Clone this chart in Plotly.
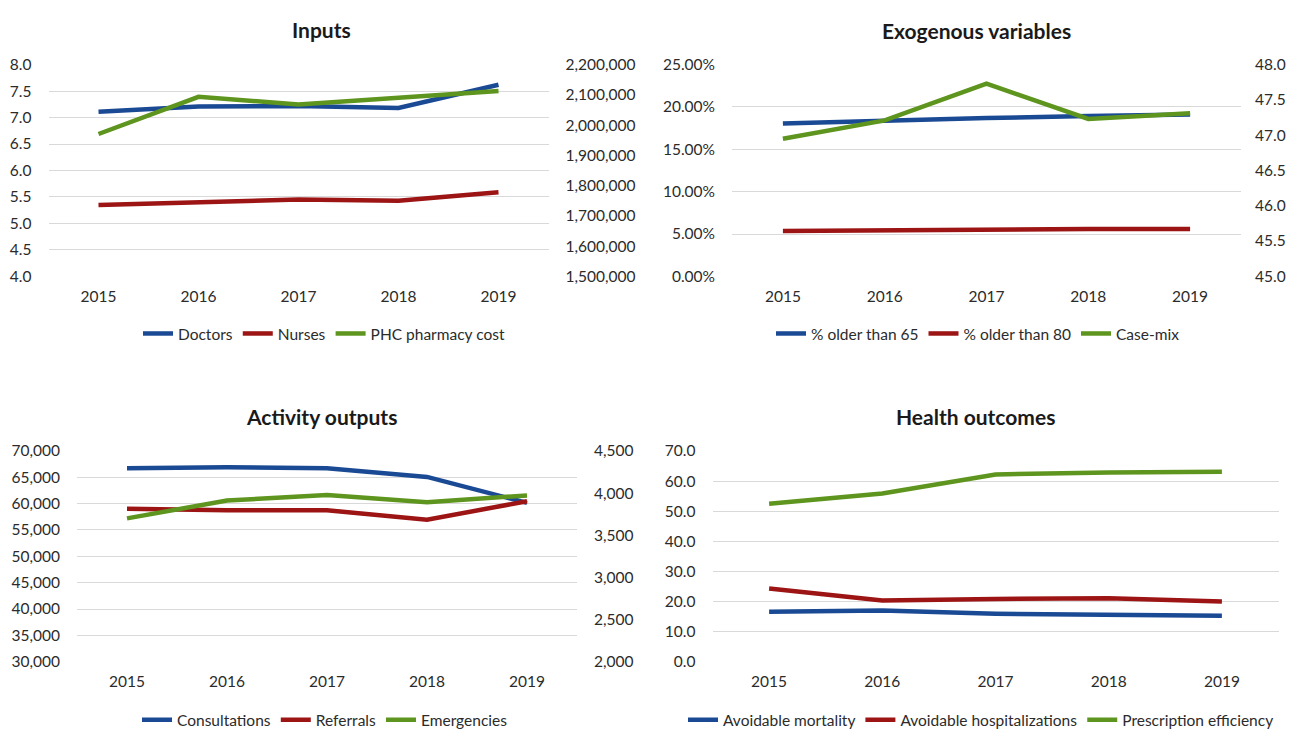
import plotly.graph_objects as go

years = ["2015", "2016", "2017", "2018", "2019"]

# Inputs
doctors = [7.11, 7.21, 7.22, 7.18, 7.62]
nurses = [5.35, 5.40, 5.45, 5.43, 5.59]
pharmacy_cost = [1970600, 2093400, 2068600, 2090200, 2112800]

# Exogenous variables
older65 = [0.1804, 0.1838, 0.1870, 0.1892, 0.1912]
older80 = [0.0535, 0.0546, 0.0554, 0.0558, 0.0558]
case_mix = [46.95, 47.21, 47.73, 47.23, 47.31]

# Activity outputs
consultations = [66740, 66920, 66740, 65080, 60150]
referrals = [59050, 58740, 58740, 56950, 60460]
emergencies = [3700, 3912, 3977, 3892, 3973]

# Health outcomes
avoid_mortality = [16.6, 17.0, 15.9, 15.6, 15.3]
avoid_hosp = [24.3, 20.3, 20.85, 21.07, 20.0]
presc_eff = [52.5, 55.85, 62.2, 62.87, 63.09]

BLUE = "#1B4A94"
RED = "#9C1414"
GREEN = "#5E951E"
GRID = "#D9D9D9"
TXT = "#2b2b2b"
FONT = "Lato"
W, H = 1298, 738

def xd(a, b):
    return [a / W, b / W]

def yd(top, bottom):
    return [1 - bottom / H, 1 - top / H]

fig = go.Figure()

def add(x, y, name, color, xa, ya, legend):
    fig.add_trace(go.Scatter(x=x, y=y, name=name, mode="lines",
                             line=dict(color=color, width=4.5),
                             xaxis=xa, yaxis=ya, legend=legend))

add(years, doctors, "Doctors", BLUE, "x", "y", "legend")
add(years, nurses, "Nurses", RED, "x", "y", "legend")
add(years, pharmacy_cost, "PHC pharmacy cost", GREEN, "x", "y2", "legend")

add(years, older65, "% older than 65", BLUE, "x2", "y3", "legend2")
add(years, older80, "% older than 80", RED, "x2", "y3", "legend2")
add(years, case_mix, "Case-mix", GREEN, "x2", "y4", "legend2")

add(years, consultations, "Consultations", BLUE, "x3", "y5", "legend3")
add(years, referrals, "Referrals", RED, "x3", "y5", "legend3")
add(years, emergencies, "Emergencies", GREEN, "x3", "y6", "legend3")

add(years, avoid_mortality, "Avoidable mortality", BLUE, "x4", "y7", "legend4")
add(years, avoid_hosp, "Avoidable hospitalizations", RED, "x4", "y7", "legend4")
add(years, presc_eff, "Prescription efficiency", GREEN, "x4", "y7", "legend4")

tickfont = dict(family=FONT, size=15.5, color=TXT)

def xaxis(dom, anchor):
    return dict(domain=dom, anchor=anchor, type="category", range=[-0.5, 4.5],
                showgrid=False, showline=False, zeroline=False, ticks="",
                tickfont=tickfont, ticklabelstandoff=9, fixedrange=True)

def yaxis(dom, anchor, rng, dtick, fmt, grid=True, side="left", overlay=None, standoff=16):
    d = dict(domain=dom, anchor=anchor, range=rng, dtick=dtick, tick0=rng[0],
             tickformat=fmt, showgrid=grid, gridcolor=GRID, gridwidth=1.3,
             zeroline=False, showline=False, ticks="", side=side,
             tickfont=tickfont, ticklabelstandoff=standoff)
    if overlay:
        d["overlaying"] = overlay
    return d

p1x, p1y = xd(48.5, 548.5), yd(56, 273)
p2x, p2y = xd(732, 1241), yd(56, 273)
p3x, p3y = xd(77, 577), yd(452, 668)
p4x, p4y = xd(712.5, 1278.5), yd(452, 668)

fig.update_layout(
    width=W, height=H,
    margin=dict(l=0, r=0, t=0, b=0),
    paper_bgcolor="white", plot_bgcolor="white",
    font=dict(family=FONT, color=TXT),
    xaxis=xaxis(p1x, "y"),
    yaxis=yaxis(p1y, "x", [4.0, 8.0], 0.5, ".1f"),
    yaxis2=yaxis(p1y, "x", [1500000, 2200000], 100000, ",.0f", grid=False, side="right", overlay="y"),
    xaxis2=xaxis(p2x, "y3"),
    yaxis3=yaxis(p2y, "x2", [0, 0.25], 0.05, ".2%"),
    yaxis4=yaxis(p2y, "x2", [45.0, 48.0], 0.5, ".1f", grid=False, side="right", overlay="y3", standoff=13),
    xaxis3=xaxis(p3x, "y5"),
    yaxis5=yaxis(p3y, "x3", [30000, 70000], 5000, ",.0f"),
    yaxis6=yaxis(p3y, "x3", [2000, 4500], 500, ",.0f", grid=False, side="right", overlay="y5"),
    xaxis4=xaxis(p4x, "y7"),
    yaxis7=yaxis(p4y, "x4", [0, 70], 10, ".1f"),
    showlegend=True,
)

def legend(xc, yc):
    return dict(orientation="h", x=xc / W, y=1 - yc / H, xanchor="center", yanchor="middle",
                font=dict(family=FONT, size=15.5, color=TXT),
                itemwidth=30, tracegroupgap=0, bgcolor="rgba(0,0,0,0)")

fig.update_layout(
    legend=legend(324, 332),
    legend2=legend(978, 332),
    legend3=legend(325, 728),
    legend4=legend(981, 728),
)

titles = [("Inputs", 321, 20), ("Exogenous variables", 976, 21),
          ("Activity outputs", 321, 417), ("Health outcomes", 975, 417)]
for t, x, y in titles:
    fig.add_annotation(text="<b>%s</b>" % t, x=x / W, y=1 - y / H, xref="paper", yref="paper",
                       xanchor="center", yanchor="middle", showarrow=False,
                       font=dict(family=FONT, size=21, color="#1a1a1a"))

fig.write_html("out.html")
